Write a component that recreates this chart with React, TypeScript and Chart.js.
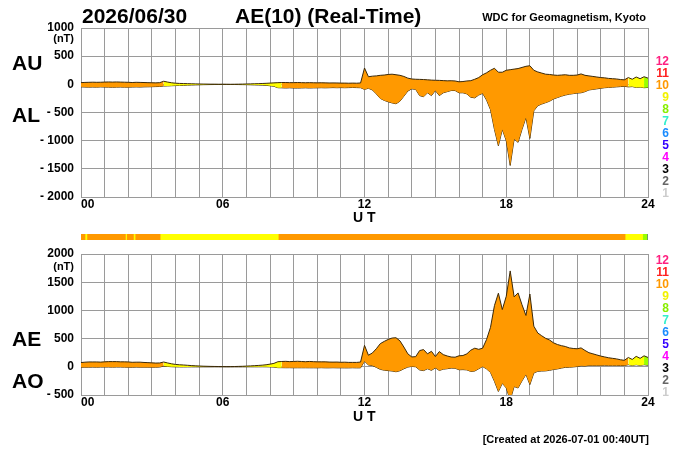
import React, { useEffect, useRef } from "react";
import { Chart, registerables } from "chart.js";

Chart.register(...registerables);

// ---- data (10-minute values, 00:00 .. 24:00 UT) ----
const STEP_MINUTES = 10;
const AU: number[] = [
  30, 34, 36, 38, 36, 37,
  40, 42, 40, 42, 40, 38,
  36, 32, 36, 34, 32, 30,
  28, 26, 30, 55, 40, 28,
  20, 16, 14, 12, 10, 8,
  6, 5, 4, 3, 3, 2,
  2, 1, 1, 2, 3, 4,
  6, 8, 10, 12, 15, 18,
  22, 26, 30, 32, 32, 30,
  30, 32, 30, 28, 30, 28,
  26, 28, 26, 24, 25, 24,
  22, 22, 20, 22, 20, 24,
  290, 135, 145, 150, 160, 165,
  175, 180, 170, 160, 140, 110,
  95, 90, 88, 85, 80, 75,
  72, 70, 66, 62, 64, 60,
  45, 50, 60, 65, 90, 120,
  170, 205, 250, 285, 215, 215,
  250, 260, 270, 280, 300, 320,
  330, 250, 220, 200, 180, 175,
  165, 160, 165, 170, 160, 160,
  165, 185, 160, 150, 140, 130,
  120, 115, 105, 100, 95, 85,
  80, 120, 90, 130, 100, 135,
  110,
];
const AL: number[] = [
  -45, -48, -50, -48, -50, -46,
  -48, -50, -52, -50, -48, -50,
  -50, -48, -46, -48, -45, -44,
  -42, -40, -38, -30, -28, -25,
  -22, -20, -18, -15, -12, -10,
  -8, -6, -5, -4, -3, -3,
  -2, -2, -3, -3, -4, -5,
  -6, -8, -10, -12, -14, -18,
  -25, -35, -60, -62, -65, -62,
  -65, -66, -64, -62, -65, -63,
  -62, -60, -62, -60, -58, -60,
  -58, -60, -58, -56, -58, -60,
  -90, -70, -100, -170, -250, -285,
  -310, -330, -345, -300, -210, -120,
  -80, -90, -200, -220, -150, -200,
  -110, -200, -150, -130, -110, -110,
  -150, -150, -170, -230, -240, -190,
  -160, -280, -450, -800, -1090, -800,
  -1000, -1440, -970, -1030, -800, -590,
  -960, -470, -380, -350, -325, -300,
  -260, -235, -210, -190, -175, -165,
  -155, -150, -130, -100, -90, -80,
  -70, -60, -55, -50, -45, -40,
  -35, -45, -40, -55, -50, -60,
  -55,
];

// number of contributing stations over time
const STATION_START = [0, 0.17, 0.25, 1.88, 1.93, 2.22, 2.29, 3.35, 8.35, 23.03, 23.77, 23.97];
const STATION_END = [0.17, 0.25, 1.88, 1.93, 2.22, 2.29, 3.35, 8.35, 23.03, 23.77, 23.97, 24];
const STATION_COUNT = [10, 9, 10, 9, 10, 9, 10, 9, 10, 9, 8, 5];

const LEGEND_LEVELS = [12, 11, 10, 9, 8, 7, 6, 5, 4, 3, 2, 1];
const LEGEND_COLORS = [
  "#ff2080", "#ff2020", "#ff9900", "#f2f200", "#88ee00", "#33eecc",
  "#1a8cff", "#3300ff", "#ff00ff", "#000000", "#666666", "#cccccc",
];
const FILL_COLORS: Record<number, string> = {
  12: "#ff2080", 11: "#ff2020", 10: "#ff9900", 9: "#ffff00", 8: "#99ff00",
  7: "#33ffcc", 6: "#1a8cff", 5: "#3300ff", 4: "#ff00ff", 3: "#000000", 2: "#666666", 1: "#cccccc",
};
const X_TICK_LABELS: Record<number, string> = { 0: "\u2007\u200700", 6: "06", 12: "12", 18: "18", 24: "24" };

const HOURS = AU.map((_, i) => (i * STEP_MINUTES) / 60);
const AE = AU.map((u, i) => u - AL[i]);
const AO = AU.map((u, i) => (u + AL[i]) / 2);

const FONT = '"Liberation Sans", Arial, Helvetica, sans-serif';
const GRID = "#9a9a9a";
const LINE = "#3a2808";

function countAt(h: number): number {
  for (let k = 0; k < STATION_START.length; k++) {
    if (h >= STATION_START[k] && h < STATION_END[k]) return STATION_COUNT[k];
  }
  return STATION_COUNT[STATION_COUNT.length - 1];
}

function panelConfig(upper: number[], lower: number[], min: number, max: number, bottomPad: number): any {
  const segColor = (ctx: any) => FILL_COLORS[countAt(HOURS[ctx.p0DataIndex])];
  return {
    type: "line",
    data: {
      datasets: [
        {
          data: upper.map((v, i) => ({ x: HOURS[i], y: v })),
          borderColor: LINE,
          borderWidth: 1,
          backgroundColor: "#ff9900",
          pointRadius: 0,
          fill: 1,
          segment: { backgroundColor: segColor },
        },
        {
          data: lower.map((v, i) => ({ x: HOURS[i], y: v })),
          borderColor: LINE,
          borderWidth: 1,
          pointRadius: 0,
          fill: false,
        },
      ],
    },
    options: {
      animation: false,
      responsive: false,
      maintainAspectRatio: false,
      layout: { padding: { left: 0, right: 52, top: 28, bottom: bottomPad } },
      plugins: { legend: { display: false }, tooltip: { enabled: false } },
      scales: {
        x: {
          type: "linear",
          min: 0,
          max: 24,
          afterFit: (s: any) => { s.height = 20; },
          ticks: {
            stepSize: 1,
            autoSkip: false,
            maxRotation: 0,
            padding: 0,
            color: "#000",
            font: { family: FONT, size: 12, weight: "bold" },
            callback: (v: any) => X_TICK_LABELS[v as number] ?? "",
          },
          grid: { color: GRID, lineWidth: 1, drawTicks: false },
          border: { color: GRID },
        },
        y: {
          min,
          max,
          afterFit: (s: any) => { s.width = 81; },
          ticks: {
            stepSize: 500,
            padding: 7,
            color: "#000",
            font: { family: FONT, size: 12, weight: "bold" },
            callback: (v: any) => (v < 0 ? `- ${-v}` : `${v}`),
          },
          grid: { color: GRID, lineWidth: 1, drawTicks: false },
          border: { color: GRID },
        },
      },
    },
  };
}

function barConfig(): any {
  return {
    type: "bar",
    data: {
      labels: ["stations"],
      datasets: STATION_START.map((s, k) => ({
        data: [[s, STATION_END[k]]],
        backgroundColor: FILL_COLORS[STATION_COUNT[k]],
        borderWidth: 0,
        barPercentage: 1,
        categoryPercentage: 1,
        grouped: false,
      })),
    },
    options: {
      indexAxis: "y",
      animation: false,
      responsive: false,
      maintainAspectRatio: false,
      layout: { padding: { left: 81, right: 52, top: 6, bottom: 6 } },
      plugins: { legend: { display: false }, tooltip: { enabled: false } },
      scales: {
        x: { type: "linear", min: 0, max: 24, display: false },
        y: { display: false },
      },
    },
  };
}

function Txt(props: { x: number; y: number; size: number; text: string; align?: "left" | "right"; color?: string; weight?: number }) {
  const { x, y, size, text, align = "left", color = "#000", weight = 700 } = props;
  const style: any = {
    position: "absolute",
    top: y - 0.8465 * size,
    fontSize: size,
    lineHeight: `${size}px`,
    fontWeight: weight,
    color,
    whiteSpace: "pre",
    fontFamily: FONT,
  };
  if (align === "left") style.left = x;
  else style.right = 700 - x;
  return <div style={style}>{text}</div>;
}

export default function App() {
  const topRef = useRef<HTMLCanvasElement>(null);
  const barRef = useRef<HTMLCanvasElement>(null);
  const botRef = useRef<HTMLCanvasElement>(null);

  useEffect(() => {
    const charts: Chart[] = [];
    if (topRef.current) charts.push(new Chart(topRef.current, panelConfig(AU, AL, -2000, 1000, 13)));
    if (barRef.current) charts.push(new Chart(barRef.current, barConfig()));
    if (botRef.current) charts.push(new Chart(botRef.current, panelConfig(AE, AO, -500, 2000, 35)));
    return () => charts.forEach((c) => c.destroy());
  }, []);

  return (
    <div style={{ position: "absolute", left: 0, top: 0, width: 700, height: 450, background: "#fff", overflow: "hidden", fontFamily: FONT }}>
      <canvas ref={topRef} width={700} height={230} style={{ position: "absolute", left: 0, top: 0 }} />
      <canvas ref={barRef} width={700} height={18} style={{ position: "absolute", left: 0, top: 228 }} />
      <canvas ref={botRef} width={700} height={224} style={{ position: "absolute", left: 0, top: 226 }} />

      <Txt x={82} y={22.5} size={21} text="2026/06/30" />
      <Txt x={235} y={22.5} size={21} text="AE(10) (Real-Time)" />
      <Txt x={646} y={21.5} size={11} text="WDC for Geomagnetism, Kyoto" align="right" />

      <Txt x={12} y={70} size={21} text="AU" />
      <Txt x={12} y={122} size={21} text="AL" />
      <Txt x={12} y={346} size={21} text="AE" />
      <Txt x={12} y={388} size={21} text="AO" />

      <Txt x={74} y={42} size={11} text="(nT)" align="right" />
      <Txt x={74} y={270} size={11} text="(nT)" align="right" />

      <Txt x={353} y={222} size={14} text="U T" />
      <Txt x={353} y={421} size={14} text="U T" />

      {LEGEND_LEVELS.map((lv, k) => (
        <Txt key={`t${lv}`} x={669} y={65 + 12 * k} size={12} text={String(lv)} align="right" color={LEGEND_COLORS[k]} />
      ))}
      {LEGEND_LEVELS.map((lv, k) => (
        <Txt key={`b${lv}`} x={669} y={264 + 12 * k} size={12} text={String(lv)} align="right" color={LEGEND_COLORS[k]} />
      ))}

      <Txt x={649} y={443} size={11} text="[Created at 2026-07-01 00:40UT]" align="right" />
    </div>
  );
}
